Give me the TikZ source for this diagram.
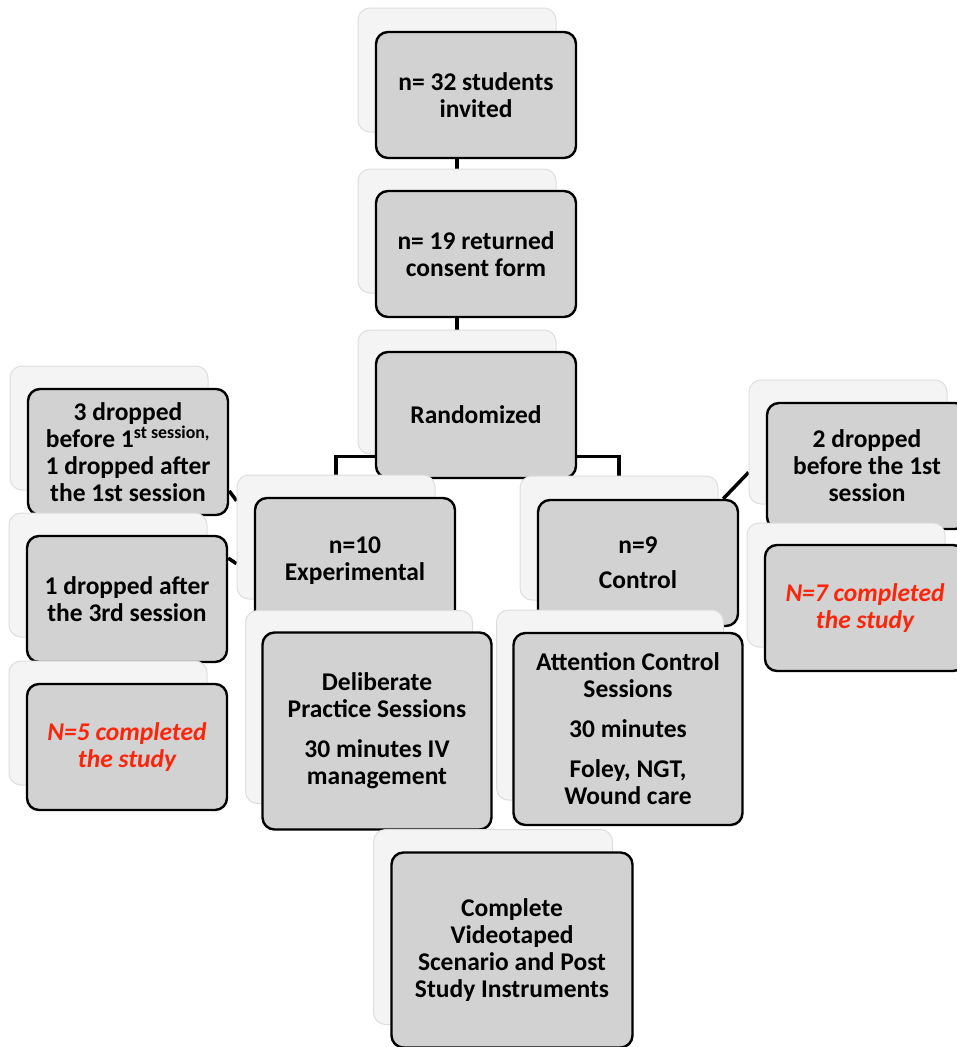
\documentclass[tikz,border=0pt]{standalone}
\usepackage{fontspec}
\setmainfont{Carlito}
\usepackage{tikz}
\usetikzlibrary{positioning}

\definecolor{boxgray}{RGB}{210,210,210}
\definecolor{shadowfill}{RGB}{244,244,244}
\definecolor{shadowline}{RGB}{222,222,222}
\definecolor{donered}{RGB}{250,38,12}
\pgfdeclarelayer{links}
\pgfsetlayers{links,main}

\begin{document}
\begin{tikzpicture}
	[x=1pt, y=-1pt,
	 main/.style = {draw=black, line width=2.4pt, fill=boxgray, rounded corners=12pt,
	   minimum width=200pt, minimum height=126pt, align=center, inner sep=0pt,
	   font=\fontsize{25.5}{27}\selectfont\bfseries},
	 back/.style = {draw=shadowline, line width=1pt, fill=shadowfill, rounded corners=12pt,
	   minimum width=198pt, minimum height=124pt},
	 done/.style = {main, text=donered, font=\fontsize{25.5}{27}\selectfont\bfseries\itshape},
	 link/.style = {line width=3.5pt}]
	\useasboundingbox (0,0) rectangle (956,1047);
	% centre column
	\node[back] (invitedb) at (457,70) {};
	\node[main, xshift=19pt, yshift=-25pt] (invited) at (invitedb) {n= 32 students\\invited};
	\node[back] (consentb) at (457,231) {};
	\node[main, xshift=19pt, yshift=-23pt] (consent) at (consentb) {n= 19 returned\\consent form};
	\node[back] (randomb) at (457,392) {};
	\node[main, xshift=19pt, yshift=-23pt] (random) at (randomb) {Randomized};
	% groups
	\node[back] (expb) at (336,537) {};
	\node[main, xshift=19pt, yshift=-24pt] (exp) at (expb) {n=10\\Experimental};
	\node[back] (ctrlb) at (619,538) {};
	\node[main, xshift=19pt, yshift=-25pt] (ctrl) at (ctrlb) {n=9\\[8pt]Control};
	% left column
	\node[back] (drop1b) at (109,428) {};
	\node[main, xshift=19pt, yshift=-24pt] (drop1) at (drop1b)
	  {3 dropped\\before 1\textsuperscript{st session,}\\1 dropped after\\the 1st session};
	\node[back] (drop2b) at (108,575) {};
	\node[main, xshift=19pt, yshift=-24pt] (drop2) at (drop2b) {1 dropped after\\the 3rd session};
	\node[back] (done5b) at (108,723) {};
	\node[done, xshift=19pt, yshift=-24pt] (done5) at (done5b) {N=5 completed\\the study};
	% right column
	\node[back] (drop3b) at (848,442) {};
	\node[main, xshift=19pt, yshift=-24pt] (drop3) at (drop3b) {2 dropped\\before the 1st\\session};
	\node[back] (done7b) at (846,585) {};
	\node[done, xshift=19pt, yshift=-23pt] (done7) at (done7b) {N=7 completed\\the study};
	% sessions
	\node[back, minimum width=227pt, minimum height=193pt] (practiceb) at (359,707) {};
	\node[main, minimum width=229pt, minimum height=197pt, xshift=18pt, yshift=-24pt] (practice) at (practiceb)
	  {Deliberate\\Practice Sessions\\[13pt]30 minutes IV\\management};
	\node[back, minimum width=227pt, minimum height=190pt] (attentionb) at (610,705) {};
	\node[main, minimum width=229pt, minimum height=192pt, xshift=18pt, yshift=-24pt] (attention) at (attentionb)
	  {Attention Control\\Sessions\\[13pt]30 minutes\\[13pt]Foley, NGT,\\Wound care};
	% last step
	\node[back, minimum width=239pt, minimum height=195pt] (finalb) at (493,927) {};
	\node[main, minimum width=241pt, minimum height=195pt, xshift=19pt, yshift=-23pt] (final) at (finalb)
	  {Complete\\Videotaped\\Scenario and Post\\Study Instruments};
	\begin{pgfonlayer}{links}
	\draw[link] (invitedb.center) -- (consentb.center);
	\draw[link] (consentb.center) -- (randomb.center);
	\draw[link] ([yshift=-2pt]randomb.south) -| (expb.center);
	\draw[link] ([yshift=-2pt]randomb.south) -| (ctrlb.center);
	\draw[link] (drop1.-21) -- (expb.160);
	\draw[link] (drop2.22) -- (expb.195);
	\draw[link] (ctrl.37) -- (drop3b.197);
	\end{pgfonlayer}
\end{tikzpicture}
\end{document}
